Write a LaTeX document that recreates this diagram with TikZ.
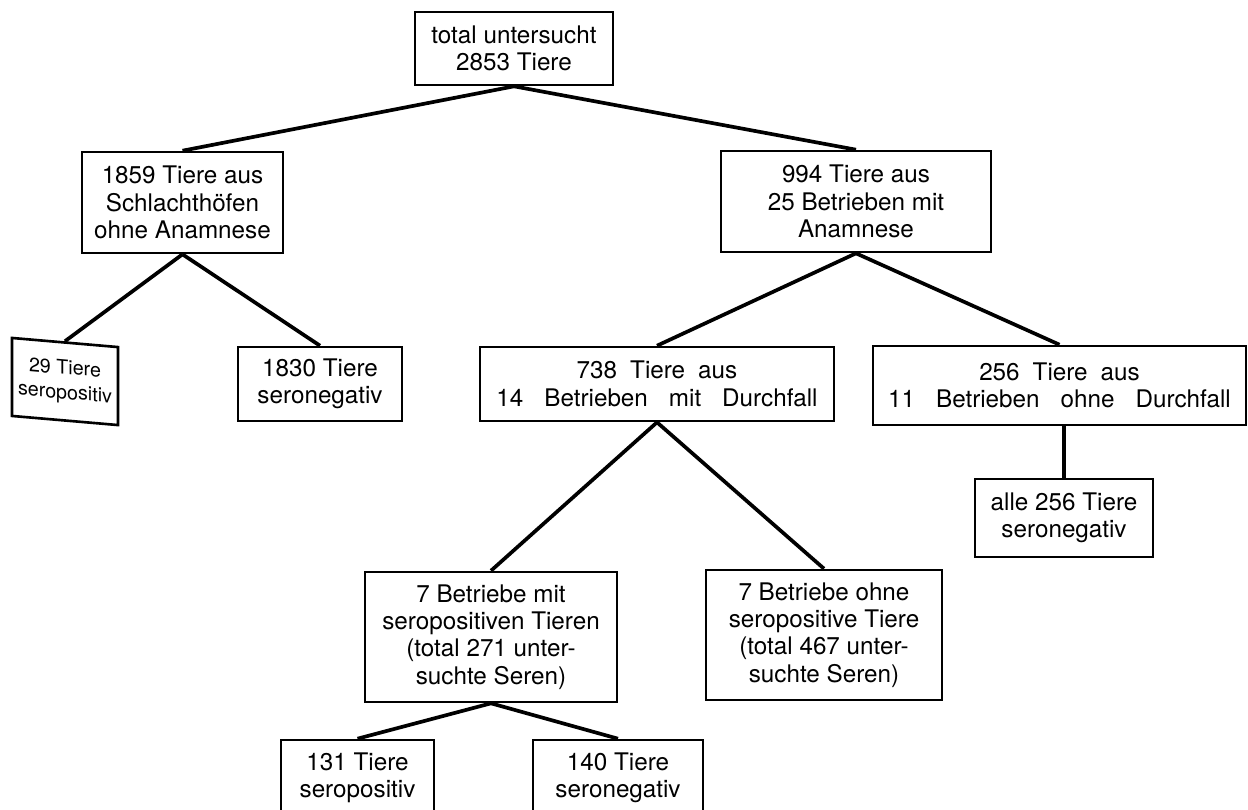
\documentclass[tikz,border=0pt]{standalone}
\usepackage{fontspec}
\setmainfont{TeX Gyre Heros}
\newcommand{\boxfont}{\fontsize{13.8}{15.6}\selectfont}
\newcommand{\smallboxfont}{\fontsize{11.2}{14}\selectfont}
\newcommand{\wsp}{\hspace{0.42cm}}
\newcommand{\msp}{\hspace{0.26cm}}

\begin{document}
\begin{tikzpicture}[x=0.02cm, y=-0.02cm,
    kasten/.style={draw, line width=1.5pt, align=center, inner sep=0pt, font=\boxfont},
    ast/.style={line width=2.1pt}]
  \useasboundingbox (0,0) rectangle (1248,809);
  \clip (0,0) rectangle (1248,809);

  % Stufe 0
  \node[kasten, minimum width=3.96cm, minimum height=1.46cm] (total) at (514,48.5)
    {total untersucht\\2853 Tiere};

  % Stufe 1
  \node[kasten, minimum width=4.02cm, minimum height=2.02cm] (schlacht) at (182.5,202.5)
    {1859 Tiere aus\\Schlachthöfen\\ohne Anamnese};
  \node[kasten, minimum width=5.4cm, minimum height=2.02cm] (betriebe) at (856,201.5)
    {994 Tiere aus\\25 Betrieben mit\\Anamnese};

  % Stufe 2
  \node[kasten, font=\smallboxfont, minimum width=2.12cm, minimum height=1.56cm,
        yslant=-0.086, transform shape] (pos29) at (65,381.5)
    {29 Tiere\\seropositiv};
  \node[kasten, minimum width=3.28cm, minimum height=1.48cm] (neg1830) at (320,384)
    {1830 Tiere\\seronegativ};
  \node[kasten, minimum width=7.08cm, minimum height=1.48cm] (mitdf) at (657,384)
    {738\msp Tiere\msp aus\\14\wsp Betrieben\wsp mit\wsp Durchfall};
  \node[kasten, minimum width=7.46cm, minimum height=1.58cm] (ohnedf) at (1059.5,385.5)
    {256\msp Tiere\msp aus\\11\wsp Betrieben\wsp ohne\wsp Durchfall};

  % Stufe 3
  \node[kasten, minimum width=3.56cm, minimum height=1.56cm] (alle) at (1064,518)
    {alle 256 Tiere\\seronegativ};
  \node[kasten, minimum width=5.04cm, minimum height=2.6cm] (bmit) at (491,637)
    {7 Betriebe mit\\seropositiven Tieren\\(total 271 unter-\\suchte Seren)};
  \node[kasten, minimum width=4.72cm, minimum height=2.6cm] (bohne) at (824,635)
    {7 Betriebe ohne\\seropositive Tiere\\(total 467 unter-\\suchte Seren)};

  % Stufe 4
  \node[kasten, minimum width=3.06cm, minimum height=1.52cm] (pos131) at (357.5,778)
    {131 Tiere\\seropositiv};
  \node[kasten, minimum width=3.4cm, minimum height=1.52cm] (neg140) at (618,778)
    {140 Tiere\\seronegativ};

  % Verbindungen
  \draw[ast] (total.south) -- (schlacht.north);
  \draw[ast] (total.south) -- (betriebe.north);
  \draw[ast] (schlacht.south) -- (pos29.north);
  \draw[ast] (schlacht.south) -- (neg1830.north);
  \draw[ast] (betriebe.south) -- (mitdf.north);
  \draw[ast] (betriebe.south) -- (ohnedf.north);
  \draw[ast] (ohnedf.south -| alle.north) -- (alle.north);
  \draw[ast] (mitdf.south) -- (bmit.north);
  \draw[ast] (mitdf.south) -- (bohne.north);
  \draw[ast] (bmit.south) -- (pos131.north);
  \draw[ast] (bmit.south) -- (neg140.north);
\end{tikzpicture}
\end{document}
